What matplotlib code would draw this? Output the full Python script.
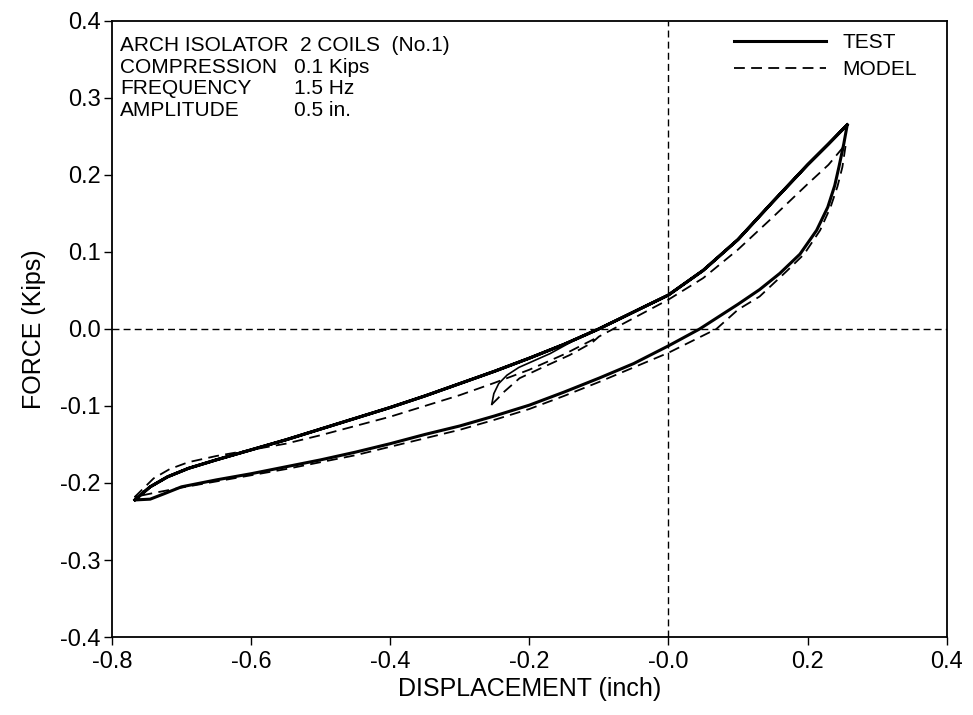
import numpy as np
import matplotlib.pyplot as plt

# measured loop (TEST): upper branch left tip -> right tip, lower branch back
test_up_x = [-0.767, -0.745, -0.72, -0.69, -0.65, -0.60, -0.55, -0.50, -0.45, -0.40,
             -0.35, -0.30, -0.25, -0.20, -0.15, -0.10, -0.05, 0.00, 0.05, 0.10,
             0.15, 0.20, 0.23, 0.257]
test_up_y = [-0.222, -0.205, -0.192, -0.181, -0.170, -0.157, -0.144, -0.130, -0.116, -0.102,
             -0.087, -0.071, -0.055, -0.038, -0.020, 0.000, 0.022, 0.044, 0.076, 0.116,
             0.165, 0.213, 0.240, 0.265]
test_lo_x = [0.257, 0.252, 0.245, 0.239, 0.229, 0.213, 0.189, 0.160, 0.131, 0.10,
             0.045, 0.00, -0.05, -0.10, -0.15, -0.20, -0.25, -0.30, -0.35, -0.40,
             -0.45, -0.50, -0.55, -0.60, -0.65, -0.70, -0.725, -0.745, -0.767]
test_lo_y = [0.265, 0.240, 0.210, 0.186, 0.158, 0.128, 0.097, 0.072, 0.051, 0.032,
             0.000, -0.022, -0.045, -0.064, -0.082, -0.099, -0.113, -0.126, -0.137, -0.149,
             -0.160, -0.170, -0.179, -0.188, -0.196, -0.205, -0.214, -0.221, -0.222]
# first quarter cycle of the test, starting from rest
test_start_x = [-0.254, -0.251, -0.244, -0.232, -0.215, -0.195, -0.170, -0.140]
test_start_y = [-0.098, -0.084, -0.071, -0.060, -0.050, -0.042, -0.032, -0.017]

# analytical model (MODEL)
model_up_x = [-0.767, -0.74, -0.717, -0.69, -0.65, -0.60, -0.55, -0.50, -0.45, -0.40,
              -0.35, -0.30, -0.25, -0.20, -0.15, -0.10, -0.05, 0.00, 0.05, 0.10,
              0.15, 0.20, 0.23, 0.255]
model_up_y = [-0.218, -0.194, -0.182, -0.173, -0.165, -0.157, -0.149, -0.138, -0.126, -0.114,
              -0.100, -0.086, -0.070, -0.053, -0.033, -0.010, 0.014, 0.038, 0.066, 0.103,
              0.145, 0.188, 0.213, 0.240]
model_lo_x = [0.255, 0.250, 0.243, 0.233, 0.218, 0.195, 0.170, 0.131, 0.10, 0.069,
              0.00, -0.05, -0.10, -0.15, -0.20, -0.25, -0.30, -0.35, -0.40, -0.45,
              -0.50, -0.55, -0.60, -0.65, -0.70, -0.74, -0.767]
model_lo_y = [0.240, 0.210, 0.185, 0.158, 0.128, 0.097, 0.075, 0.042, 0.025, 0.000,
              -0.031, -0.050, -0.069, -0.087, -0.104, -0.118, -0.131, -0.142, -0.153, -0.164,
              -0.173, -0.182, -0.190, -0.198, -0.206, -0.213, -0.218]
model_start_x = [-0.254, -0.245, -0.238, -0.214, -0.181, -0.142, -0.110, -0.100]
model_start_y = [-0.098, -0.090, -0.083, -0.064, -0.050, -0.034, -0.018, -0.010]

xticks = [-0.8, -0.6, -0.4, -0.2, 0.0, 0.2, 0.4]
xtick_labels = ["-0.8", "-0.6", "-0.4", "-0.2", "-0.0", "0.2", "0.4"]
yticks = [-0.4, -0.3, -0.2, -0.1, 0.0, 0.1, 0.2, 0.3, 0.4]
ytick_labels = ["-0.4", "-0.3", "-0.2", "-0.1", "0.0", "0.1", "0.2", "0.3", "0.4"]

info_names = ["ARCH ISOLATOR  2 COILS  (No.1)", "COMPRESSION", "FREQUENCY", "AMPLITUDE"]
info_values = ["", "0.1 Kips", "1.5 Hz", "0.5 in."]

plt.rcParams['font.family'] = ['Liberation Sans', 'DejaVu Sans']

fig = plt.figure(figsize=(9.73, 7.15), dpi=100)
ax = fig.add_axes([0.115, 0.109, 0.858, 0.862])

# zero reference lines
ax.axhline(0, color='black', lw=1.0, ls=(0, (5, 3)))
ax.axvline(0, color='black', lw=1.0, ls=(0, (5, 3)))

def up_from(xs, ys, x0):
    return [x for x in xs if x >= x0], [y for x, y in zip(xs, ys) if x >= x0]

def up_to(xs, ys, x1):
    return [x for x in xs if x <= x1], [y for x, y in zip(xs, ys) if x <= x1]

# test: start transient, then the steady loop
ax.plot(test_start_x, test_start_y, color='black', lw=1.2)
tx = test_up_x + test_lo_x[1:] + test_up_x[1:]
ty = test_up_y + test_lo_y[1:] + test_up_y[1:]
ax.plot(tx, ty, color='black', lw=2.2, solid_joinstyle='round', label='TEST')

# model: one continuous path, start -> upper -> lower -> upper
ux, uy = up_from(model_up_x, model_up_y, -0.09)
rx, ry = up_to(model_up_x, model_up_y, -0.09)
mx = model_start_x + ux + model_lo_x[1:] + rx[1:]
my = model_start_y + uy + model_lo_y[1:] + ry[1:]
ax.plot(mx, my, color='black', lw=1.3, ls=(0, (6, 3.5)), label='MODEL')

ax.set_xlim(-0.8, 0.4)
ax.set_ylim(-0.4, 0.4)
ax.set_xticks(xticks)
ax.set_xticklabels(xtick_labels)
ax.set_yticks(yticks)
ax.set_yticklabels(ytick_labels)
ax.tick_params(direction='out', length=6, width=1.0, labelsize=17, pad=2)
ax.tick_params(axis='x', pad=4)
for s in ax.spines.values():
    s.set_linewidth(1.3)

ax.set_xlabel("DISPLACEMENT (inch)", fontsize=18, labelpad=3)
ax.set_ylabel("FORCE (Kips)", fontsize=18, labelpad=10)

for i, (name, val) in enumerate(zip(info_names, info_values)):
    yy = 0.975 - i * 0.035
    ax.text(0.01, yy, name, transform=ax.transAxes, fontsize=15, va='top', ha='left')
    if val:
        ax.text(0.218, yy, val, transform=ax.transAxes, fontsize=15, va='top', ha='left')

ax.legend(loc='upper left', bbox_to_anchor=(0.745, 0.98), frameon=False, fontsize=15,
          handlelength=4.4, handletextpad=0.8, labelspacing=0.4, borderpad=0,
          borderaxespad=0)

fig.savefig("out.png", dpi=100)
